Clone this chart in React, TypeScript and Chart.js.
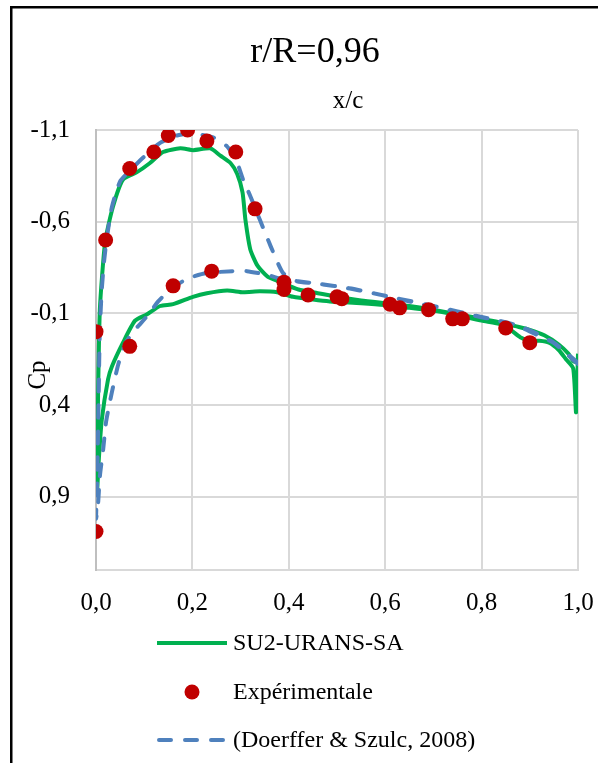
import React, { useEffect, useRef } from "react";
import { Chart, registerables } from "chart.js";

Chart.register(...registerables);

// ---------- data ----------
const xTicks = [0, 0.2, 0.4, 0.6, 0.8, 1.0];
const yTicks = [-1.1, -0.6, -0.1, 0.4, 0.9];

// SU2-URANS-SA, suction side (leading edge -> trailing edge)
const suUpperX = [0.002, 0.004, 0.008, 0.019, 0.035, 0.056, 0.085, 0.112, 0.139, 0.175, 0.202, 0.237, 0.258, 0.279, 0.293, 0.304, 0.31, 0.32, 0.335, 0.356, 0.383, 0.42, 0.46, 0.5, 0.55, 0.6, 0.65, 0.7, 0.75, 0.8, 0.84, 0.87, 0.9, 0.93, 0.96, 0.98, 0.99, 1.0];
const suUpperCp = [0.88, 0.4, -0.12, -0.49, -0.68, -0.83, -0.87, -0.92, -0.98, -1.0, -0.99, -1.0, -0.96, -0.92, -0.86, -0.76, -0.61, -0.45, -0.36, -0.3, -0.27, -0.23, -0.21, -0.19, -0.17, -0.155, -0.14, -0.12, -0.095, -0.07, -0.05, -0.03, -0.01, 0.02, 0.07, 0.12, 0.16, 0.17];
// SU2-URANS-SA, pressure side (leading edge -> trailing edge)
const suLowerX = [0.006, 0.012, 0.025, 0.033, 0.056, 0.081, 0.106, 0.133, 0.16, 0.201, 0.23, 0.272, 0.305, 0.34, 0.376, 0.409, 0.45, 0.485, 0.55, 0.6, 0.65, 0.7, 0.75, 0.8, 0.84, 0.86, 0.88, 0.9, 0.92, 0.94, 0.96, 0.975, 0.99, 0.996, 1.0];
const suLowerCp = [0.69, 0.48, 0.26, 0.19, 0.06, -0.06, -0.095, -0.14, -0.15, -0.19, -0.21, -0.225, -0.215, -0.22, -0.215, -0.19, -0.175, -0.165, -0.155, -0.145, -0.13, -0.115, -0.09, -0.06, -0.04, -0.01, 0.03, 0.05, 0.05, 0.06, 0.1, 0.15, 0.2, 0.44, 0.12];

// Experimental
const expX = [0, 0.02, 0.07, 0.12, 0.15, 0.19, 0.23, 0.29, 0.33, 0, 0.07, 0.16, 0.24, 0.39, 0.39, 0.44, 0.5, 0.51, 0.61, 0.63, 0.69, 0.74, 0.76, 0.85, 0.9];
const expCp = [0.0, -0.5, -0.89, -0.98, -1.07, -1.1, -1.04, -0.98, -0.67, 1.09, 0.08, -0.25, -0.33, -0.27, -0.23, -0.2, -0.19, -0.18, -0.15, -0.13, -0.12, -0.07, -0.07, -0.02, 0.06];

// Doerffer & Szulc 2008, suction side
const dsUpperX = [0, 0.002, 0.004, 0.006, 0.008, 0.012, 0.017, 0.023, 0.033, 0.05, 0.071, 0.098, 0.133, 0.168, 0.201, 0.243, 0.272, 0.293, 0.305, 0.32, 0.34, 0.361, 0.388, 0.417, 0.465, 0.527, 0.61, 0.658, 0.728, 0.797, 0.838, 0.88, 0.921, 0.948, 0.977, 1.0];
const dsUpperCp = [1.02, 0.86, 0.585, 0.26, -0.01, -0.23, -0.39, -0.52, -0.68, -0.82, -0.88, -0.95, -1.03, -1.07, -1.08, -1.06, -1.01, -0.92, -0.83, -0.74, -0.61, -0.475, -0.32, -0.275, -0.26, -0.235, -0.19, -0.16, -0.12, -0.08, -0.057, -0.025, 0.025, 0.058, 0.123, 0.177];
// Doerffer & Szulc 2008, pressure side
const dsLowerX = [0.004, 0.008, 0.015, 0.021, 0.033, 0.046, 0.06, 0.077, 0.091, 0.106, 0.129, 0.154, 0.18, 0.201, 0.23, 0.284, 0.313, 0.355, 0.388, 0.45, 0.53, 0.61, 0.7, 0.8, 0.88, 0.95, 1.0];
const dsLowerCp = [0.95, 0.79, 0.64, 0.49, 0.33, 0.18, 0.07, 0.0, -0.04, -0.085, -0.165, -0.23, -0.275, -0.3, -0.32, -0.33, -0.33, -0.31, -0.285, -0.265, -0.235, -0.19, -0.14, -0.08, -0.03, 0.06, 0.17];

const legendLabels = ["SU2-URANS-SA", "Expérimentale", "(Doerffer & Szulc, 2008)"];

// ---------- helpers ----------
const FONT = '"Liberation Serif", "Times New Roman", serif';
const GREEN = "#00b050";
const RED = "#c00000";
const BLUE = "#4f81bd";

const pts = (xs: number[], ys: number[]) => xs.map((x, i) => ({ x, y: ys[i] }));
const loop = (ux: number[], uy: number[], lx: number[], ly: number[]) => [
  ...pts(ux, uy).reverse(),
  ...pts(lx, ly),
];
const fmt = (v: number) => Number(v).toFixed(1).replace(".", ",");

const decor = {
  id: "decor",
  afterDraw(chart: any) {
    const ctx = chart.ctx as CanvasRenderingContext2D;
    ctx.save();
    // outer border (left + top visible)
    ctx.fillStyle = "#000";
    ctx.fillRect(10, 6, 2.5, 763);
    ctx.fillRect(10, 6, 600, 2.5);

    ctx.fillStyle = "#000";
    ctx.textBaseline = "alphabetic";
    ctx.textAlign = "center";
    ctx.font = `36px ${FONT}`;
    ctx.fillText("r/R=0,96", 315, 62);
    ctx.font = `25px ${FONT}`;
    ctx.fillText("x/c", 348, 108);

    // y axis title
    ctx.save();
    ctx.translate(45, 375);
    ctx.rotate(-Math.PI / 2);
    ctx.font = `25px ${FONT}`;
    ctx.fillText("Cp", 0, 0);
    ctx.restore();

    // legend
    ctx.font = `24px ${FONT}`;
    ctx.textAlign = "left";
    ctx.textBaseline = "middle";
    const rows = [643, 692, 740];
    ctx.strokeStyle = GREEN;
    ctx.lineWidth = 4;
    ctx.lineCap = "butt";
    ctx.beginPath();
    ctx.moveTo(157, rows[0]);
    ctx.lineTo(227, rows[0]);
    ctx.stroke();
    ctx.fillStyle = RED;
    ctx.beginPath();
    ctx.arc(192, rows[1], 7.5, 0, Math.PI * 2);
    ctx.fill();
    ctx.strokeStyle = BLUE;
    ctx.lineCap = "round";
    ctx.setLineDash([12, 14]);
    ctx.beginPath();
    ctx.moveTo(159, rows[2]);
    ctx.lineTo(227, rows[2]);
    ctx.stroke();
    ctx.setLineDash([]);

    ctx.fillStyle = "#000";
    legendLabels.forEach((t, i) => ctx.fillText(t, 233, rows[i] + 1));
    ctx.restore();
  },
};

export default function App() {
  const ref = useRef<HTMLCanvasElement>(null);
  useEffect(() => {
    const canvas = ref.current!;
    const chart = new Chart(canvas, {
      type: "scatter",
      data: {
        datasets: [
          {
            label: legendLabels[0],
            data: loop(suUpperX, suUpperCp, suLowerX, suLowerCp),
            showLine: true,
            borderColor: GREEN,
            backgroundColor: GREEN,
            borderWidth: 4,
            pointRadius: 0,
            tension: 0.2,
            order: 2,
          },
          {
            label: legendLabels[1],
            data: pts(expX, expCp),
            showLine: false,
            backgroundColor: RED,
            borderColor: RED,
            borderWidth: 0,
            pointRadius: 7.5,
            order: 0,
          },
          {
            label: legendLabels[2],
            data: loop(dsUpperX, dsUpperCp, dsLowerX, dsLowerCp),
            showLine: true,
            borderColor: BLUE,
            backgroundColor: BLUE,
            borderWidth: 4,
            borderDash: [12, 14],
            borderCapStyle: "round",
            pointRadius: 0,
            tension: 0.2,
            order: 1,
          },
        ],
      },
      options: {
        animation: false,
        responsive: false,
        maintainAspectRatio: false,
        layout: { padding: { top: 130, right: 20, bottom: 143, left: 0 } },
        plugins: {
          legend: { display: false },
          title: { display: false },
          tooltip: { enabled: false },
        },
        scales: {
          x: {
            type: "linear",
            position: "bottom",
            min: 0,
            max: 1,
            afterBuildTicks: (s: any) => {
              s.ticks = xTicks.map((v) => ({ value: v }));
            },
            afterFit: (s: any) => {
              s.height = 50;
              s.paddingLeft = 0;
              s.paddingRight = 0;
            },
            ticks: {
              callback: (v: any) => fmt(v),
              font: { family: FONT, size: 25 },
              color: "#000",
              padding: 18,
              maxRotation: 0,
              autoSkip: false,
            },
            grid: { color: "#d9d9d9", lineWidth: 2, drawTicks: false },
            border: { display: true, color: "#d9d9d9", width: 2 },
          },
          y: {
            type: "linear",
            reverse: true,
            min: -1.1,
            max: 1.3,
            afterBuildTicks: (s: any) => {
              s.ticks = yTicks.map((v) => ({ value: v }));
            },
            afterFit: (s: any) => {
              s.width = 96;
              s.paddingTop = 0;
              s.paddingBottom = 0;
            },
            ticks: {
              callback: (v: any) => fmt(v),
              font: { family: FONT, size: 25 },
              color: "#000",
              padding: 26,
              autoSkip: false,
            },
            grid: { color: "#d9d9d9", lineWidth: 2, drawTicks: false },
            border: { display: true, color: "#bfbfbf", width: 2 },
          },
        },
      },
      plugins: [decor],
    });
    return () => chart.destroy();
  }, []);
  return (
    <div style={{ position: "fixed", left: 0, top: 0, width: 598, height: 763, background: "#fff" }}>
      <canvas ref={ref} width={598} height={763} style={{ display: "block", width: 598, height: 763 }} />
    </div>
  );
}
